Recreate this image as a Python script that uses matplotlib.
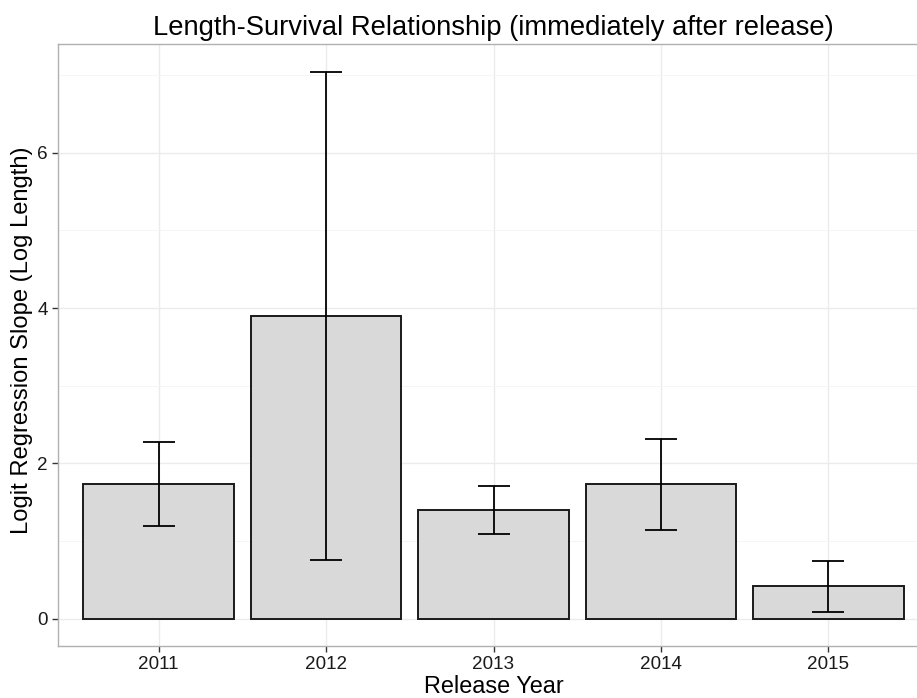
import numpy as np
import matplotlib
matplotlib.use("Agg")
import matplotlib.pyplot as plt
from matplotlib.ticker import MultipleLocator

plt.rcParams['font.family'] = ['Liberation Sans', 'DejaVu Sans']

# slope estimates with their interval bounds, per release year
years = ["2011", "2012", "2013", "2014", "2015"]
slope = [1.735, 3.893, 1.399, 1.730, 0.416]
ci_low = [1.199, 0.750, 1.090, 1.137, 0.090]
ci_high = [2.276, 7.046, 1.708, 2.318, 0.742]

slope = np.array(slope)
err = np.vstack([slope - np.array(ci_low), np.array(ci_high) - slope])
x = np.arange(1, len(years) + 1)

fig = plt.figure(figsize=(9.17, 6.98), dpi=100)
ax = fig.add_axes([58.3 / 917, 52 / 698, (928.8 - 58.3) / 917, (646 - 44.3) / 698])

ax.bar(x, slope, width=0.9, color="#d9d9d9", edgecolor="#1a1a1a", linewidth=1.4, zorder=2)
ax.errorbar(x, slope, yerr=err, fmt="none", ecolor="black", elinewidth=1.3,
            capsize=11.5, capthick=1.3, zorder=3)

ax.set_xlim(0.4, 5.6)
ax.set_ylim(-0.352, 7.398)
ax.set_xticks(x)
ax.set_xticklabels(years)
ax.yaxis.set_major_locator(MultipleLocator(2))
ax.yaxis.set_minor_locator(MultipleLocator(1))

ax.grid(which="major", color="#ebebeb", linewidth=1.0, zorder=0)
ax.grid(which="minor", axis="y", color="#f4f4f4", linewidth=0.6, zorder=0)
ax.set_axisbelow(True)

for s in ax.spines.values():
    s.set_color("#b0b0b0")
    s.set_linewidth(1.0)

ax.tick_params(which="major", length=4, width=1.0, color="#333333",
               labelsize=13.6, labelcolor="#1a1a1a", pad=3.5)
ax.tick_params(which="minor", length=0)

ax.set_xlabel("Release Year", fontsize=16.9, labelpad=1)
ax.set_ylabel("Logit Regression Slope (Log Length)", fontsize=17.1)
ax.yaxis.set_label_coords(-0.0295, 0.508)
ax.set_title("Length-Survival Relationship (immediately after release)", fontsize=19.7, pad=7)

fig.savefig("out.png", dpi=100)
